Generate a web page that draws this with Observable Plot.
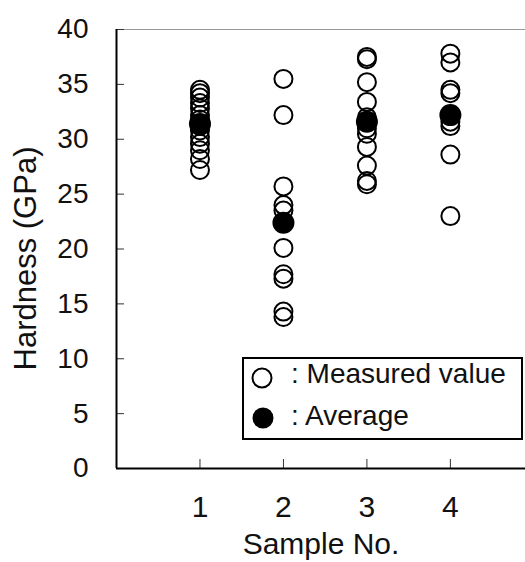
<!DOCTYPE html>
<html>
<head>
<meta charset="utf-8">
<script src="https://cdn.jsdelivr.net/npm/d3@7"></script>
<script src="https://cdn.jsdelivr.net/npm/@observablehq/plot@0.6"></script>
<style>
  html, body { margin: 0; padding: 0; background: #fff; }
  #wrap { position: relative; width: 525px; height: 562px; overflow: hidden; font-family: "Liberation Sans", Arial, sans-serif; }
  #legend { position: absolute; left: 242px; top: 357px; width: 277px; height: 79px; border: 2px solid #000; background: #fff; }
  #legend svg { position: absolute; left: 0; top: 0; }
</style>
</head>
<body>
<div id="wrap"></div>
<script>
// ---- data ----
const samples = [1, 2, 3, 4];
const sample1 = [34.5, 34.2, 33.8, 33.3, 32.8, 32.2, 31.8, 31.2, 30.8, 30.2, 29.6, 29.0, 28.2, 27.2];
const sample2 = [35.5, 32.2, 25.7, 24.0, 23.5, 20.1, 17.7, 17.3, 14.3, 13.8];
const sample3 = [37.5, 37.3, 35.2, 33.4, 32.0, 31.0, 30.5, 29.3, 27.6, 26.2, 25.9];
const sample4 = [37.8, 37.0, 34.5, 34.2, 31.6, 31.2, 28.6, 23.0];
const averages = [31.4, 22.4, 31.6, 32.2];
const yTicks = [0, 5, 10, 15, 20, 25, 30, 35, 40];
const xTicks = [1, 2, 3, 4];
const yLabel = "Hardness (GPa)";
const xLabel = "Sample No.";
const legendLabels = [": Measured value", ": Average"];

// ---- tables ----
const measured = [sample1, sample2, sample3, sample4].flatMap((vals, i) => vals.map(v => ({sample: samples[i], value: v})));
const avg = averages.map((v, i) => ({sample: samples[i], value: v}));

const W = 525, H = 562, ML = 116, MT = 29, MB = 94, MR = 0;
const font = '"Liberation Sans", Arial, sans-serif';

const chart = Plot.plot({
  width: W, height: H,
  marginLeft: ML, marginTop: MT, marginBottom: MB, marginRight: MR,
  style: {fontFamily: font, background: "#fff", color: "#111"},
  x: {domain: [0, 4.9]},
  y: {domain: [0, 40]},
  marks: [
    Plot.ruleY([40], {stroke: "#999", strokeWidth: 1}),
    Plot.tickY(yTicks, {y: d => d, insetRight: W - ML - MR - 8, stroke: "#333", strokeWidth: 1}),
    Plot.tickX(xTicks, {x: d => d, insetTop: H - MT - MB - 9, stroke: "#333", strokeWidth: 1}),
    Plot.ruleX([0], {stroke: "#000", strokeWidth: 2}),
    Plot.ruleY([0], {stroke: "#000", strokeWidth: 2}),
    Plot.axisY({ticks: yTicks, tickSize: 0, tickPadding: 28, fontSize: 28, label: null, tickFormat: d => String(d)}),
    Plot.axisX({ticks: xTicks, tickSize: 0, tickPadding: 27, fontSize: 30, label: null, tickFormat: d => String(d)}),
    Plot.dot(measured, {x: "sample", y: "value", r: 9, stroke: "#000", strokeWidth: 2, fill: "none"}),
    Plot.dot(avg, {x: "sample", y: "value", r: 11, fill: "#000", stroke: "none"}),
    Plot.text([yLabel], {frameAnchor: "left", textAnchor: "middle", lineAnchor: "middle", rotate: -90, dx: -90, dy: 9.5, fontSize: 31, text: d => d, fill: "#111"}),
    Plot.text([xLabel], {frameAnchor: "bottom", textAnchor: "middle", lineAnchor: "middle", dy: 76, fontSize: 30, text: d => d, fill: "#111"})
  ]
});

const wrap = document.getElementById("wrap");
wrap.appendChild(chart);

// legend
const leg = document.createElement("div");
leg.id = "legend";
const ns = "http://www.w3.org/2000/svg";
const ls = document.createElementNS(ns, "svg");
ls.setAttribute("width", 277); ls.setAttribute("height", 79);
const c1 = document.createElementNS(ns, "circle");
c1.setAttribute("cx", 18); c1.setAttribute("cy", 19); c1.setAttribute("r", 9.5);
c1.setAttribute("fill", "none"); c1.setAttribute("stroke", "#000"); c1.setAttribute("stroke-width", 2);
const c2 = document.createElementNS(ns, "circle");
c2.setAttribute("cx", 19); c2.setAttribute("cy", 59); c2.setAttribute("r", 10.5);
c2.setAttribute("fill", "#000");
ls.appendChild(c1); ls.appendChild(c2);
legendLabels.forEach((t, i) => {
  const tx = document.createElementNS(ns, "text");
  tx.setAttribute("x", 47); tx.setAttribute("y", i === 0 ? 24 : 66);
  tx.setAttribute("font-size", 28); tx.setAttribute("font-family", font);
  tx.setAttribute("fill", "#111");
  tx.textContent = t;
  ls.appendChild(tx);
});
leg.appendChild(ls);
wrap.appendChild(leg);
</script>
</body>
</html>
